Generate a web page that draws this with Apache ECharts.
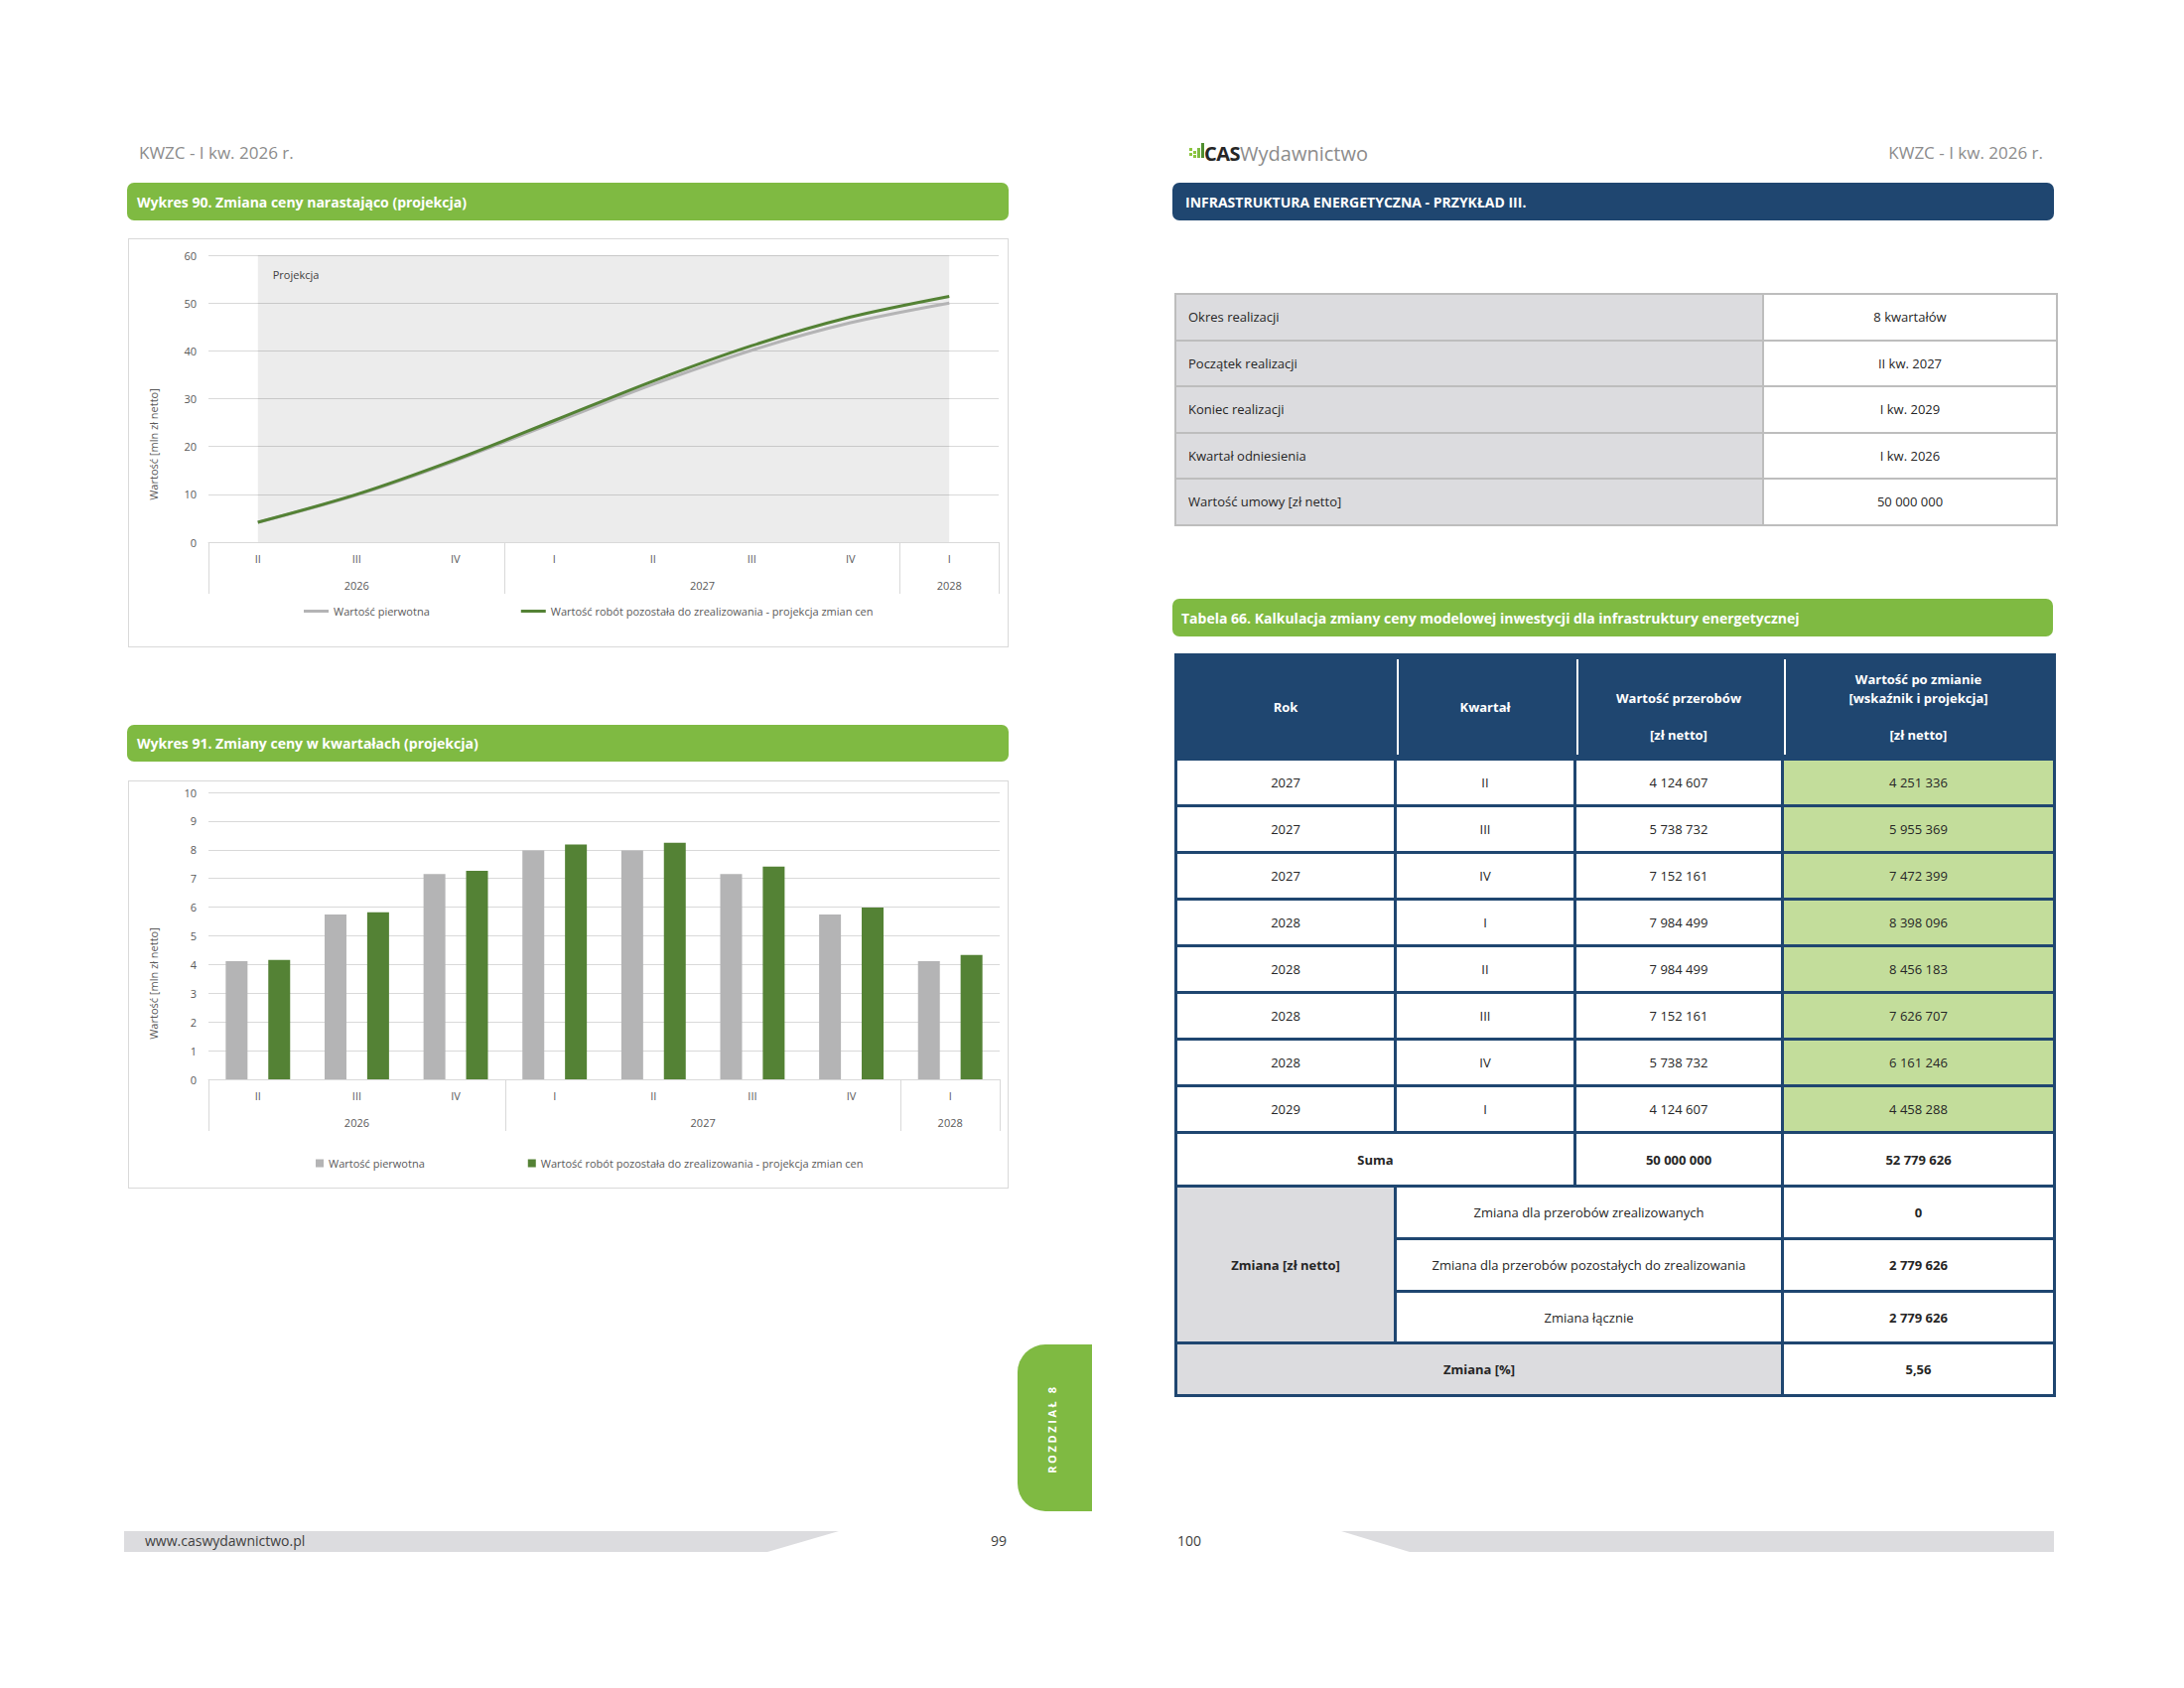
<!DOCTYPE html>
<html lang="pl">
<head>
<meta charset="utf-8">
<title>KWZC - Wykres 90 i 91</title>
<script src="https://cdn.jsdelivr.net/npm/echarts@6/dist/echarts.min.js"></script>
<style>
html,body{margin:0;padding:0;background:#fff;}
body{width:2200px;height:1700px;position:relative;font-family:"Open Sans",sans-serif;overflow:hidden;color:#262626;}
.abs{position:absolute;}
.hdr{position:absolute;font-size:17px;color:#8c8c8c;line-height:20px;white-space:nowrap;}
.bar{position:absolute;border-radius:7px;color:#fff;font-weight:700;font-size:14px;display:flex;align-items:center;box-sizing:border-box;white-space:nowrap;}
.green{background:#7fba42;}
.blue{background:#1f4670;}
.frame{position:absolute;border:1px solid #d9d9d9;box-sizing:border-box;}
.chart{position:absolute;}
table{border-collapse:collapse;table-layout:fixed;font-size:13px;}
#info{position:absolute;left:1183px;top:295px;width:888px;}
#info td{border:2px solid #bdbdbd;height:44.5px;padding:0;}
#info td.l{background:#dcdcdf;padding-left:12px;}
#info td.r{background:#fff;text-align:center;}
#main{position:absolute;left:1183px;top:658px;width:885px;border:3px solid #1f4670;}
#main td,#main th{border:3px solid #1f4670;padding:0;text-align:center;white-space:nowrap;}
#main th{background:#1f4670;color:#fff;font-weight:700;font-size:13px;line-height:18.5px;}
#main th.sep{background-image:linear-gradient(#fff,#fff);background-size:2px calc(100% - 6px);background-position:0 center;background-repeat:no-repeat;}
#main td.g{background:#c3dd9b;}
#main td.gr{background:#dcdcdf;}
#main td.b{font-weight:700;}
.tab{position:absolute;left:1025px;top:1354px;width:75px;height:168px;background:#7fba42;border-radius:28px 0 0 28px;}
.tabtxt{position:absolute;left:1059px;top:1439px;transform:translate(-50%,-50%) rotate(-90deg);color:#fff;font-weight:700;font-size:11px;letter-spacing:2.6px;white-space:nowrap;}
.foot{position:absolute;top:1542px;height:21px;background:#dcdcdf;}
.ftxt{position:absolute;font-size:14px;color:#404040;line-height:20px;white-space:nowrap;}
</style>
</head>
<body>

<!-- ===== LEFT PAGE ===== -->
<div class="hdr" style="left:140px;top:144px;">KWZC - I kw. 2026 r.</div>

<div class="bar green" style="left:128px;top:184px;width:888px;height:38px;padding-left:10px;">Wykres 90. Zmiana ceny narastająco (projekcja)</div>
<div class="frame" style="left:129px;top:240px;width:887px;height:412px;"></div>
<div id="chart1" class="chart" style="left:129px;top:240px;width:887px;height:412px;"></div>

<div class="bar green" style="left:128px;top:730px;width:888px;height:37px;padding-left:10px;">Wykres 91. Zmiany ceny w kwartałach (projekcja)</div>
<div class="frame" style="left:129px;top:786px;width:887px;height:411px;"></div>
<div id="chart2" class="chart" style="left:129px;top:786px;width:887px;height:411px;"></div>

<div class="tab"></div>
<div class="tabtxt">ROZDZIAŁ 8</div>

<div class="foot" style="left:125px;width:720px;clip-path:polygon(0 0,100% 0,calc(100% - 72px) 100%,0 100%);"></div>
<div class="ftxt" style="left:146px;top:1542px;">www.caswydawnictwo.pl</div>
<div class="ftxt" style="left:998px;top:1542px;">99</div>

<!-- ===== RIGHT PAGE ===== -->
<div class="abs" style="left:1198px;top:143px;width:15px;height:17px;">
  <div class="abs" style="left:0;top:11px;width:3px;height:3px;background:#8dc63f;"></div>
  <div class="abs" style="left:0;top:6px;width:3px;height:3px;background:#8dc63f;"></div>
  <div class="abs" style="left:4px;top:9px;width:3px;height:3px;background:#8dc63f;"></div>
  <div class="abs" style="left:4px;top:13px;width:3px;height:3px;background:#8dc63f;"></div>
  <div class="abs" style="left:8px;top:6px;width:3px;height:10px;background:#7fba42;"></div>
  <div class="abs" style="left:12px;top:1px;width:3px;height:15px;background:#4f8f2f;"></div>
</div>
<div class="abs" style="left:1213px;top:141px;font-size:20px;line-height:28px;white-space:nowrap;"><span style="font-weight:700;color:#262626;letter-spacing:-0.5px;">CAS</span><span style="color:#8c8c8c;font-weight:400;">Wydawnictwo</span></div>
<div class="hdr" style="right:142px;top:144px;">KWZC - I kw. 2026 r.</div>

<div class="bar blue" style="left:1181px;top:184px;width:888px;height:38px;padding-left:13px;">INFRASTRUKTURA ENERGETYCZNA - PRZYKŁAD III.</div>

<table id="info"><colgroup><col style="width:592px"><col style="width:296px"></colgroup><tbody id="infoBody"></tbody></table>

<div class="bar green" style="left:1181px;top:603px;width:887px;height:38px;padding-left:9px;">Tabela 66. Kalkulacja zmiany ceny modelowej inwestycji dla infrastruktury energetycznej</div>

<table id="main">
<colgroup><col style="width:221px"><col style="width:181px"><col style="width:209px"><col style="width:274px"></colgroup>
<thead id="mainHead"></thead>
<tbody id="mainBody"></tbody>
</table>

<div class="ftxt" style="left:1186px;top:1542px;">100</div>
<div class="foot" style="left:1351px;width:718px;clip-path:polygon(0 0,100% 0,100% 100%,69px 100%);"></div>

<script>
// ---------- chart data ----------
const quarters = ['II', 'III', 'IV', 'I', 'II', 'III', 'IV', 'I'];
const yearLabels = ['2026', '2027', '2028'];
const yearSpans = [3, 4, 1];            // number of quarters under each year label
const seriesNames = ['Wartość pierwotna', 'Wartość robót pozostała do zrealizowania - projekcja zmian cen'];
const cumOriginal = [4.12, 9.86, 17.01, 24.99, 32.98, 40.13, 45.87, 49.99];
const cumProjected = [4.16, 9.98, 17.25, 25.43, 33.67, 41.08, 47.07, 51.40];
const qOriginal = [4.12, 5.74, 7.15, 7.98, 7.98, 7.15, 5.74, 4.12];
const qProjected = [4.16, 5.82, 7.27, 8.18, 8.24, 7.41, 5.99, 4.33];
const projectionLabel = 'Projekcja';
const yTitle = 'Wartość [mln zł netto]';

// ---------- table data ----------
const infoLabels = ['Okres realizacji', 'Początek realizacji', 'Koniec realizacji', 'Kwartał odniesienia', 'Wartość umowy [zł netto]'];
const infoValues = ['8 kwartałów', 'II kw. 2027', 'I kw. 2029', 'I kw. 2026', '50 000 000'];
const tableYears = ['2027', '2027', '2027', '2028', '2028', '2028', '2028', '2029'];
const tableQuarters = ['II', 'III', 'IV', 'I', 'II', 'III', 'IV', 'I'];
const tableBase = ['4 124 607', '5 738 732', '7 152 161', '7 984 499', '7 984 499', '7 152 161', '5 738 732', '4 124 607'];
const tableChanged = ['4 251 336', '5 955 369', '7 472 399', '8 398 096', '8 456 183', '7 626 707', '6 161 246', '4 458 288'];
const sumBase = '50 000 000';
const sumChanged = '52 779 626';
const changeLabels = ['Zmiana dla przerobów zrealizowanych', 'Zmiana dla przerobów pozostałych do zrealizowania', 'Zmiana łącznie'];
const changeValues = ['0', '2 779 626', '2 779 626'];
const changePct = '5,56';

// ---------- build tables ----------
(function () {
  const ib = document.getElementById('infoBody');
  infoLabels.forEach((l, i) => {
    const tr = document.createElement('tr');
    tr.innerHTML = '<td class="l">' + l + '</td><td class="r">' + infoValues[i] + '</td>';
    ib.appendChild(tr);
  });
  const mh = document.getElementById('mainHead');
  mh.innerHTML = '<tr style="height:105px"><th>Rok</th><th class="sep">Kwartał</th>' +
    '<th class="sep"><br>Wartość przerobów<br><br>[zł netto]</th>' +
    '<th class="sep">Wartość po zmianie<br>[wskaźnik i projekcja]<br><br>[zł netto]</th></tr>';
  const mb = document.getElementById('mainBody');
  let html = '';
  tableYears.forEach((y, i) => {
    html += '<tr style="height:47px"><td>' + y + '</td><td>' + tableQuarters[i] + '</td><td>' + tableBase[i] +
      '</td><td class="g">' + tableChanged[i] + '</td></tr>';
  });
  html += '<tr style="height:54px"><td colspan="2" class="b">Suma</td><td class="b">' + sumBase + '</td><td class="b">' + sumChanged + '</td></tr>';
  const hs = [53, 53, 52];
  changeLabels.forEach((l, i) => {
    html += '<tr style="height:' + hs[i] + 'px">' + (i === 0 ? '<td rowspan="3" class="gr b">Zmiana [zł netto]</td>' : '') +
      '<td colspan="2">' + l + '</td><td class="b">' + changeValues[i] + '</td></tr>';
  });
  html += '<tr style="height:53px"><td colspan="3" class="gr b">Zmiana [%]</td><td class="b">' + changePct + '</td></tr>';
  mb.innerHTML = html;
})();

// ---------- charts ----------
const FONT = '"Open Sans", sans-serif';
const AX = '#595959';
const GRIDC = '#d9d9d9';
const GRAY = '#b4b4b5';
const GREEN = '#548235';

function xAxes() {
  const bounds = [0];
  yearSpans.forEach(s => bounds.push(bounds[bounds.length - 1] + s));
  const centers = yearSpans.map((s, i) => bounds[i] + s / 2);
  return [
    {
      type: 'category', data: quarters,
      axisLine: { show: true, lineStyle: { color: GRIDC, width: 1 } },
      axisTick: { show: false },
      axisLabel: { color: AX, fontSize: 11, margin: 11, fontFamily: FONT },
      splitLine: { show: false }
    },
    {
      type: 'value', min: 0, max: quarters.length, position: 'bottom', offset: 52,
      axisLine: { show: false }, splitLine: { show: false },
      axisTick: { show: true, inside: true, length: 52, customValues: bounds, lineStyle: { color: GRIDC, width: 1 } },
      axisLabel: {
        show: true, inside: true, margin: 3, customValues: centers,
        formatter: v => { const i = centers.indexOf(v); return i >= 0 ? yearLabels[i] : ''; },
        color: AX, fontSize: 11, fontFamily: FONT
      }
    }
  ];
}

function yAxis(max, shift) {
  return {
    type: 'value', min: 0, max: max, interval: max / (max === 60 ? 6 : 10),
    axisLine: { show: false }, axisTick: { show: false },
    splitLine: { lineStyle: { color: GRIDC, width: 1 } },
    axisLabel: { color: AX, fontSize: 11, margin: 12, fontFamily: FONT },
    name: yTitle, nameLocation: 'middle', nameGap: 50,
    nameTextStyle: { color: AX, fontSize: 11, fontFamily: FONT, padding: [0, shift, 0, 0] }
  };
}

const c1 = echarts.init(document.getElementById('chart1'), null, { renderer: 'svg' });
c1.setOption({
  animation: false,
  textStyle: { fontFamily: FONT },
  grid: { left: 81, right: 10, top: 17, bottom: 106 },
  legend: {
    left: 172, top: 365, icon: 'rect', itemWidth: 25, itemHeight: 3, itemGap: 92,
    textStyle: { color: AX, fontSize: 11, fontFamily: FONT },
    data: seriesNames
  },
  xAxis: xAxes(),
  yAxis: yAxis(60, 92),
  series: [
    {
      name: seriesNames[0], type: 'line', data: cumOriginal, smooth: 0.3, symbol: 'none',
      lineStyle: { color: GRAY, width: 3 }, itemStyle: { color: GRAY },
      markArea: {
        silent: true,
        itemStyle: { color: 'rgba(0,0,0,0.075)' },
        label: { show: true, position: [15, 14], color: '#404040', fontSize: 11, fontFamily: FONT },
        data: [[{ xAxis: 0, yAxis: 0, name: projectionLabel }, { xAxis: quarters.length - 1, yAxis: 60 }]]
      }
    },
    {
      name: seriesNames[1], type: 'line', data: cumProjected, smooth: 0.3, symbol: 'none',
      lineStyle: { color: GREEN, width: 3 }, itemStyle: { color: GREEN }
    }
  ]
});

const c2 = echarts.init(document.getElementById('chart2'), null, { renderer: 'svg' });
c2.setOption({
  animation: false,
  textStyle: { fontFamily: FONT },
  grid: { left: 81, right: 9, top: 12, bottom: 110 },
  legend: {
    left: 184, top: 375, icon: 'rect', itemWidth: 8, itemHeight: 8, itemGap: 104,
    textStyle: { color: AX, fontSize: 11, fontFamily: FONT },
    data: seriesNames
  },
  xAxis: xAxes(),
  yAxis: yAxis(10, 96),
  series: [
    { name: seriesNames[0], type: 'bar', data: qOriginal, barWidth: 22, barGap: '95%', itemStyle: { color: GRAY } },
    { name: seriesNames[1], type: 'bar', data: qProjected, barWidth: 22, itemStyle: { color: GREEN } }
  ]
});
</script>
</body>
</html>
